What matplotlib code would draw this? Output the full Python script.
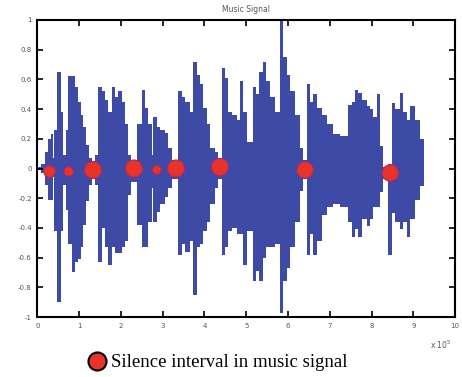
import matplotlib.pyplot as plt
import numpy as np
from matplotlib.lines import Line2D

# Envelope of the music signal: step start positions (x 1e5 samples) with
# the upper / lower amplitude held until the next step.
env_x = [0.01, 0.08, 0.18, 0.25, 0.32, 0.37, 0.39, 0.46, 0.56, 0.61,
         0.68, 0.73, 0.82, 0.89, 0.97, 1.04, 1.09, 1.16, 1.23, 1.30,
         1.37, 1.45, 1.54, 1.61, 1.69, 1.78, 1.85, 1.93, 2.02, 2.09,
         2.17, 2.24, 2.38, 2.50, 2.57, 2.65, 2.74, 2.77, 2.86, 2.93,
         3.05, 3.12, 3.22, 3.36, 3.46, 3.53, 3.65, 3.72, 3.82, 3.89,
         3.96, 4.06, 4.13, 4.25, 4.32, 4.42, 4.49, 4.56, 4.66, 4.78,
         4.85, 4.92, 5.02, 5.16, 5.23, 5.31, 5.40, 5.47, 5.57, 5.69,
         5.81, 5.88, 5.98, 6.05, 6.17, 6.29, 6.36, 6.46, 6.53, 6.60,
         6.70, 6.82, 6.94, 7.08, 7.25, 7.44, 7.54, 7.61, 7.68, 7.78,
         7.90, 7.97, 8.04, 8.14, 8.21, 8.28, 8.40, 8.50, 8.57, 8.69,
         8.76, 8.86, 8.93, 9.05, 9.17, 9.26]
env_top = [0.01, 0.03, 0.11, 0.20, 0.23, 0.07, 0.26, 0.65, 0.38, 0.09,
           0.26, 0.62, 0.62, 0.55, 0.45, 0.36, 0.28, 0.16, 0.07, 0.05,
           0.09, 0.55, 0.52, 0.46, 0.38, 0.55, 0.48, 0.52, 0.45, 0.30,
           0.09, 0.06, 0.30, 0.53, 0.41, 0.30, 0.09, 0.35, 0.28, 0.26,
           0.24, 0.14, 0.06, 0.52, 0.48, 0.45, 0.38, 0.72, 0.63, 0.57,
           0.41, 0.30, 0.14, 0.11, 0.06, 0.68, 0.61, 0.38, 0.36, 0.33,
           0.59, 0.38, 0.18, 0.55, 0.50, 0.65, 0.72, 0.59, 0.48, 0.38,
           0.99, 0.75, 0.63, 0.52, 0.36, 0.14, 0.06, 0.57, 0.45, 0.50,
           0.41, 0.36, 0.30, 0.23, 0.22, 0.43, 0.45, 0.53, 0.51, 0.46,
           0.42, 0.40, 0.35, 0.50, 0.15, 0.01, 0.03, 0.44, 0.40, 0.51,
           0.38, 0.33, 0.42, 0.33, 0.20, 0.20]
env_bot = [-0.01, -0.03, -0.11, -0.21, -0.21, -0.06, -0.42, -0.90, -0.42, -0.11,
           -0.28, -0.51, -0.70, -0.63, -0.61, -0.53, -0.38, -0.22, -0.11, -0.07,
           -0.11, -0.63, -0.40, -0.53, -0.65, -0.53, -0.57, -0.57, -0.53, -0.49,
           -0.18, -0.09, -0.38, -0.53, -0.53, -0.36, -0.13, -0.36, -0.29, -0.24,
           -0.19, -0.13, -0.07, -0.58, -0.51, -0.56, -0.49, -0.85, -0.53, -0.51,
           -0.42, -0.36, -0.24, -0.13, -0.07, -0.58, -0.53, -0.42, -0.40, -0.44,
           -0.44, -0.65, -0.42, -0.76, -0.69, -0.76, -0.60, -0.53, -0.53, -0.51,
           -0.97, -0.76, -0.67, -0.53, -0.36, -0.15, -0.07, -0.58, -0.44, -0.58,
           -0.49, -0.31, -0.26, -0.24, -0.26, -0.36, -0.46, -0.41, -0.46, -0.34,
           -0.39, -0.34, -0.26, -0.26, -0.16, -0.07, -0.58, -0.30, -0.36, -0.41,
           -0.36, -0.46, -0.34, -0.21, -0.12, -0.12]

# detected silence intervals
silence_x = [0.29, 0.75, 1.33, 2.31, 2.86, 3.32, 4.37, 6.41, 8.45]
silence_y = [-0.02, -0.02, -0.01, 0.0, -0.01, 0.0, 0.01, -0.01, -0.03]
dot_sizes = [70, 45, 150, 150, 40, 150, 150, 140, 140]

x_ticks = np.arange(0, 11, 1)
y_ticks = np.round(np.arange(-1, 1.01, 0.2), 1)

fig = plt.figure(figsize=(4.62, 3.77), dpi=100)
ax = fig.add_axes([0.081, 0.159, 0.904, 0.788])

blue = "#3d4ba6"
ax.fill_between(env_x, env_top, env_bot, step="post", color=blue, lw=0)
ax.scatter(silence_x, silence_y, s=dot_sizes, color="#e8332b",
           edgecolors="#b8285a", linewidths=0.8, zorder=3)

ax.set_xlim(0, 10)
ax.set_ylim(-1, 1)
ax.set_xticks(x_ticks)
ax.set_yticks(y_ticks)
ax.set_xticklabels([str(t) for t in x_ticks])
ax.set_yticklabels(["0" if t == 0 else ("%g" % t) for t in y_ticks])
ax.tick_params(direction="in", length=4, width=1.2, top=True, right=True,
               labelsize=5, labelcolor="#555555", pad=4)
for s in ax.spines.values():
    s.set_linewidth(1.5)

ax.set_title("Music Signal", fontsize=5.5, color="#555555", pad=6)
ax.text(0.965, -0.095, r"x 10$^5$", transform=ax.transAxes, fontsize=5.5,
        color="#555555", ha="center", va="center")

handle = Line2D([], [], marker="o", color="none", markerfacecolor="#e8332b",
                markeredgecolor="black", markeredgewidth=1.5, markersize=13)
fig.legend([handle], ["Silence interval in music signal"], loc="center",
           bbox_to_anchor=(0.47, 0.038), frameon=False, handletextpad=0.2,
           handlelength=1.1,
           prop={"family": "Liberation Serif", "size": 13.5})

fig.savefig("out.png", dpi=100)
